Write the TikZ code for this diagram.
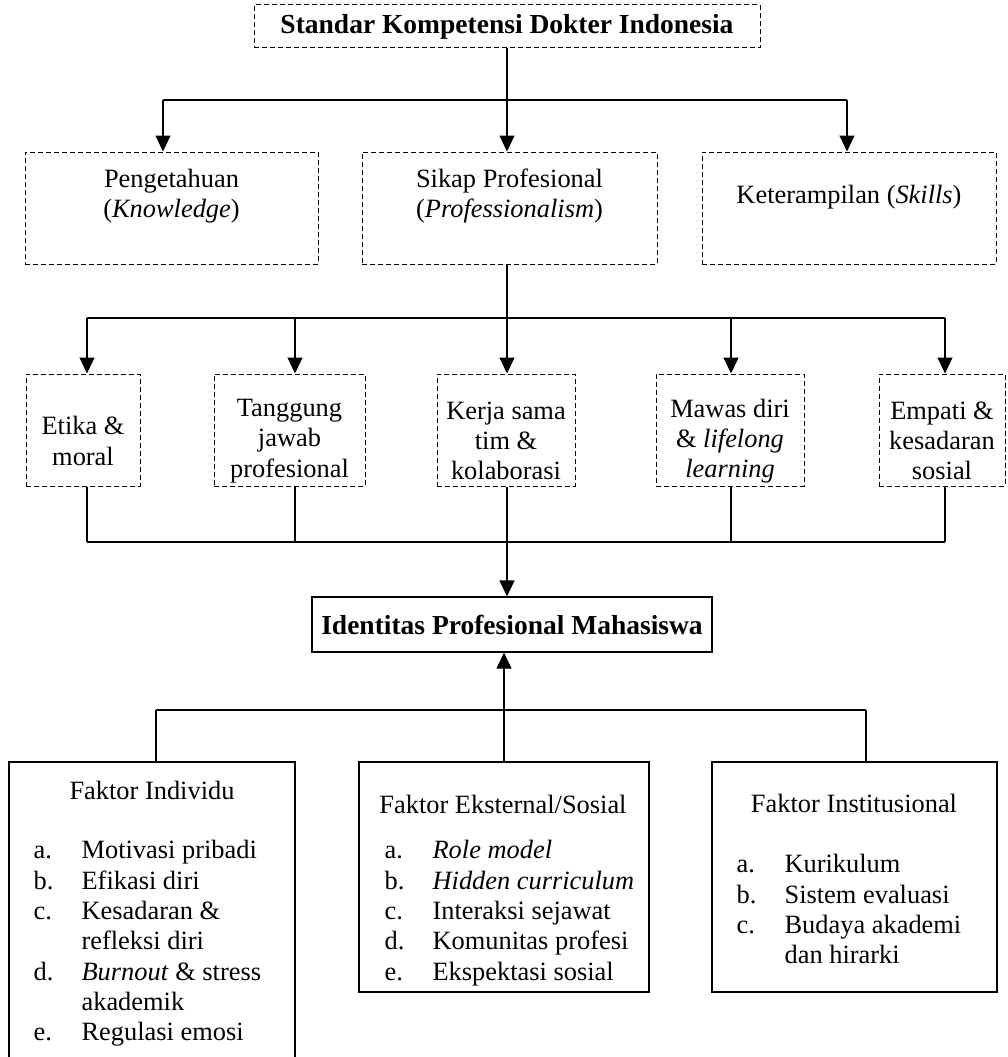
\documentclass[tikz,border=0pt]{standalone}
\usepackage{fontspec}
\setmainfont{Liberation Serif}
\usetikzlibrary{arrows.meta}

\tikzset{
  dbox/.style={draw, dash pattern=on 5pt off 3pt, line width=1pt, inner sep=0pt},
  sbox/.style={draw, line width=1.2pt, inner sep=0pt},
  txt/.style={align=center, inner sep=0pt, font=\fontsize{26.4}{30.3}\selectfont},
  lst/.style={align=left, inner sep=0pt, anchor=north west, font=\fontsize{26.4}{30.3}\selectfont},
  arr/.style={-{Triangle[length=16pt,width=15pt]}},
}
\newcommand{\itm}[1]{\makebox[48pt][l]{#1}}

\begin{document}
\begin{tikzpicture}[x=1pt, y=-1pt, line width=1.2pt]
    \useasboundingbox (0,0) rectangle (1007,1057);
    \clip (0,0) rectangle (1007,1057);

    % top
    \node[dbox, minimum width=506pt, minimum height=43pt, font=\fontsize{27.5}{31}\selectfont\bfseries] (skdi) at (507,26.5) {Standar Kompetensi Dokter Indonesia};

    \node[dbox, minimum width=293pt, minimum height=112pt] (peng) at (171.5,208) {};
    \node[txt] (pengtxt) at (171.5,196) {Pengetahuan\\(\textit{Knowledge})};
    \node[dbox, minimum width=295pt, minimum height=112pt] (sikap) at (509.5,208) {};
    \node[txt] (sikaptxt) at (509.5,196) {Sikap Profesional\\(\textit{Professionalism})};
    \node[dbox, minimum width=294pt, minimum height=112pt] (ket) at (849,208) {};
    \node[txt] (kettxt) at (849,197) {Keterampilan (\textit{Skills})};

    \coordinate (t1) at (163,100);
    \coordinate (t2) at (507,100);
    \coordinate (t3) at (847,100);
    \draw (skdi.south) -- (t2);
    \draw (t1) -- (t3);
    \draw[arr] (t1) -- (t1 |- peng.north);
    \draw[arr] (t2) -- (t2 |- sikap.north);
    \draw[arr] (t3) -- (t3 |- ket.north);

    % sikap profesional
    \node[dbox, minimum width=114pt, minimum height=112pt] (etika) at (83,430) {};
    \node[txt] (etikatxt) at (83,441) {Etika \&\\moral};
    \node[dbox, minimum width=151pt, minimum height=112pt] (tang) at (289.5,430) {};
    \node[txt] (tangtxt) at (289.5,441) {Tanggung\\jawab\\profesional};
    \node[dbox, minimum width=138pt, minimum height=112pt] (kerja) at (506,430) {};
    \node[txt] (kerjatxt) at (506,441) {Kerja sama\\tim \&\\kolaborasi};
    \node[dbox, minimum width=148pt, minimum height=112pt] (mawas) at (730,430) {};
    \node[txt] (mawastxt) at (730,441) {Mawas diri\\\& \textit{lifelong}\\\textit{learning}};
    \node[dbox, minimum width=126pt, minimum height=112pt] (empati) at (942,430) {};
    \node[txt] (empatitxt) at (942,441) {Empati \&\\kesadaran\\sosial};

    \coordinate (u1) at (87,318);
    \coordinate (u2) at (295,318);
    \coordinate (u3) at (507,318);
    \coordinate (u4) at (731,318);
    \coordinate (u5) at (945,318);
    \draw (u3 |- sikap.south) -- (u3);
    \draw (u1) -- (u5);
    \draw[arr] (u1) -- (u1 |- etika.north);
    \draw[arr] (u2) -- (u2 |- tang.north);
    \draw[arr] (u3) -- (u3 |- kerja.north);
    \draw[arr] (u4) -- (u4 |- mawas.north);
    \draw[arr] (u5) -- (u5 |- empati.north);

    \coordinate (v1) at (87,542);
    \coordinate (v2) at (295,542);
    \coordinate (v3) at (507,542);
    \coordinate (v4) at (731,542);
    \coordinate (v5) at (945,542);
    \draw (v1) -- (v5);
    \draw (v1 |- etika.south) -- (v1);
    \draw (v2 |- tang.south) -- (v2);
    \draw (v3 |- kerja.south) -- (v3);
    \draw (v4 |- mawas.south) -- (v4);
    \draw (v5 |- empati.south) -- (v5);

    % identitas
    \node[sbox, minimum width=400pt, minimum height=55pt, font=\fontsize{27.5}{31}\selectfont\bfseries] (idn) at (512,624.5) {Identitas Profesional Mahasiswa};
    \draw[arr] (v3) -- (v3 |- idn.north);

    % faktor
    \node[sbox, minimum width=286pt, minimum height=330pt] (indiv) at (152,927) {};
    \node[txt] (indivtxt) at (152,790) {Faktor Individu};
    \node[lst] (indivlst) at (33,840) {\itm{a.}Motivasi pribadi\\\itm{b.}Efikasi diri\\\itm{c.}Kesadaran \&\\\hspace*{48pt}refleksi diri\\\itm{d.}\textit{Burnout} \& stress\\\hspace*{48pt}akademik\\\itm{e.}Regulasi emosi};

    \node[sbox, minimum width=290pt, minimum height=230pt] (eks) at (504,877) {};
    \node[txt] (ekstxt) at (503,804) {Faktor Eksternal/Sosial};
    \node[lst] (ekslst) at (384,840) {\itm{a.}\textit{Role model}\\\itm{b.}\textit{Hidden curriculum}\\\itm{c.}Interaksi sejawat\\\itm{d.}Komunitas profesi\\\itm{e.}Ekspektasi sosial};

    \node[sbox, minimum width=285pt, minimum height=230pt] (inst) at (854.5,877) {};
    \node[txt] (insttxt) at (854,803) {Faktor Institusional};
    \node[lst] (instlst) at (736,854) {\itm{a.}Kurikulum\\\itm{b.}Sistem evaluasi\\\itm{c.}Budaya akademi\\\hspace*{48pt}dan hirarki};

    \coordinate (w1) at (156,710);
    \coordinate (w2) at (504,710);
    \coordinate (w3) at (866,710);
    \draw (w1) -- (w3);
    \draw[arr] (w2) -- (w2 |- idn.south);
    \draw (w1) -- (w1 |- indiv.north);
    \draw (w2) -- (w2 |- eks.north);
    \draw (w3) -- (w3 |- inst.north);
\end{tikzpicture}
\end{document}
